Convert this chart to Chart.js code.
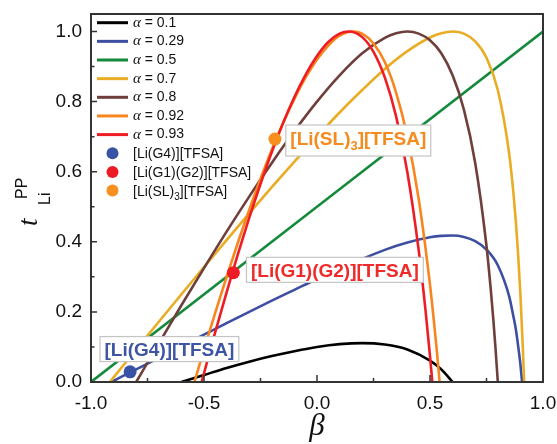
<!DOCTYPE html>
<html>
<head>
<meta charset="utf-8">
<script src="https://cdn.jsdelivr.net/npm/chart.js@4.4.0/dist/chart.umd.min.js"></script>
<style>
  html, body { margin: 0; padding: 0; background: #fff; }
  #wrap { width: 557px; height: 444px; }
</style>
</head>
<body>
<div id="wrap"><canvas id="chart" width="557" height="444"></canvas></div>
<script>
// curve values (beta -> t_Li^PP), one pair of arrays per alpha
var alphaLabels = ['0.1', '0.29', '0.5', '0.7', '0.8', '0.92', '0.93'];
var lineColors = ['#000000', '#3d4fa1', '#158a3c', '#e9ad25', '#6e3f3b', '#f7861e', '#ee1d23'];

var beta01 = [-0.6, -0.5, -0.4, -0.3, -0.2, -0.1, 0, 0.1, 0.2, 0.3, 0.4, 0.5, 0.55, 0.6];
var t01    = [0, 0.020, 0.040, 0.058, 0.074, 0.088, 0.100, 0.108, 0.111, 0.107, 0.093, 0.061, 0.036, 0];

var beta029 = [-0.9075, -0.9, -0.8, -0.7, -0.6, -0.5, -0.4, -0.3, -0.2, -0.1, 0, 0.1, 0.2, 0.3, 0.4, 0.5, 0.55, 0.6, 0.65, 0.7, 0.75, 0.8, 0.85, 0.87, 0.88, 0.89, 0.9, 0.9075];
var t029    = [0, 0.003, 0.036, 0.069, 0.102, 0.135, 0.168, 0.200, 0.232, 0.263, 0.294, 0.323, 0.351, 0.377, 0.398, 0.413, 0.417, 0.418, 0.414, 0.402, 0.378, 0.333, 0.245, 0.184, 0.150, 0.103, 0.050, 0];

var beta05 = [-1, 1];
var t05    = [0, 1];

var beta07 = [-0.9165, -0.9, -0.8, -0.7, -0.6, -0.5, -0.4, -0.3, -0.2, -0.1, 0, 0.1, 0.2, 0.3, 0.4, 0.5, 0.55, 0.6, 0.65, 0.7, 0.75, 0.8, 0.85, 0.87, 0.88, 0.89, 0.9, 0.91, 0.9165];
var t07    = [0, 0.013, 0.093, 0.172, 0.250, 0.328, 0.405, 0.481, 0.556, 0.629, 0.700, 0.769, 0.833, 0.893, 0.944, 0.983, 0.995, 1.000, 0.994, 0.972, 0.925, 0.833, 0.653, 0.533, 0.456, 0.363, 0.250, 0.110, 0];

var beta08 = [-0.8, -0.7, -0.6, -0.5, -0.4, -0.3, -0.2, -0.1, 0, 0.1, 0.2, 0.3, 0.35, 0.4, 0.45, 0.5, 0.55, 0.6, 0.65, 0.7, 0.75, 0.77, 0.78, 0.79, 0.8];
var t08    = [0, 0.110, 0.219, 0.325, 0.429, 0.529, 0.625, 0.716, 0.800, 0.875, 0.938, 0.982, 0.995, 1.000, 0.994, 0.975, 0.938, 0.875, 0.777, 0.625, 0.388, 0.256, 0.180, 0.095, 0];

var beta092 = [-0.5426, -0.52, -0.5, -0.45, -0.4, -0.35, -0.3, -0.25, -0.2, -0.15, -0.1, -0.05, 0, 0.05, 0.1, 0.16, 0.2, 0.25, 0.3, 0.35, 0.4, 0.45, 0.5, 0.51, 0.52, 0.53, 0.5426];
var t092    = [0, 0.049, 0.093, 0.198, 0.300, 0.398, 0.491, 0.580, 0.663, 0.739, 0.808, 0.869, 0.920, 0.960, 0.988, 1.000, 0.994, 0.966, 0.913, 0.826, 0.700, 0.522, 0.278, 0.219, 0.156, 0.090, 0];

var beta093 = [-0.5103, -0.5, -0.45, -0.4, -0.35, -0.3, -0.25, -0.2, -0.15, -0.1, -0.05, 0, 0.05, 0.1, 0.14, 0.2, 0.25, 0.3, 0.35, 0.4, 0.45, 0.48, 0.5, 0.5103];
var t093    = [0, 0.025, 0.143, 0.256, 0.365, 0.468, 0.565, 0.656, 0.739, 0.813, 0.877, 0.930, 0.970, 0.994, 1.000, 0.984, 0.942, 0.869, 0.758, 0.598, 0.376, 0.206, 0.074, 0];

// measured electrolytes
var saltNames = ['[Li(G4)][TFSA]', '[Li(G1)(G2)][TFSA]', '[Li(SL)3][TFSA]'];
var saltColors = ['#3853a4', '#ed1c24', '#f7901e'];
var saltTextColors = ['#3e55a5', '#ee2a2a', '#f58a1f'];
var saltBeta = [-0.827, -0.37, -0.186];
var saltT = [0.029, 0.312, 0.693];
// where the callout boxes sit (left edge beta, centre t)
var calloutBeta = [-0.96, -0.312, -0.138];
var calloutT = [0.094, 0.32, 0.689];

var xTicks = [-1, -0.5, 0, 0.5, 1];
var xMinor = [-0.75, -0.25, 0.25, 0.75];
var yTicks = [0, 0.2, 0.4, 0.6, 0.8, 1.0];
var yMinor = [0.1, 0.3, 0.5, 0.7, 0.9];

function pts(bx, ty) {
  return bx.map(function (b, i) { return { x: b, y: ty[i] }; });
}

var curveBetas = [beta01, beta029, beta05, beta07, beta08, beta092, beta093];
var curveTs = [t01, t029, t05, t07, t08, t092, t093];

var datasets = [];
saltNames.forEach(function (name, i) {
  datasets.push({
    type: 'scatter',
    label: name,
    data: [{ x: saltBeta[i], y: saltT[i] }],
    backgroundColor: saltColors[i],
    borderWidth: 0,
    pointRadius: 6.5,
    order: 0
  });
});
alphaLabels.forEach(function (a, i) {
  datasets.push({
    type: 'line',
    label: 'α = ' + a,
    data: pts(curveBetas[i], curveTs[i]),
    borderColor: lineColors[i],
    borderWidth: 2.6,
    pointRadius: 0,
    fill: false,
    cubicInterpolationMode: 'monotone',
    order: 10 - i
  });
});

function drawSaltText(ctx, text, x, y, size) {
  // handles the subscript 3 in [Li(SL)3][TFSA]
  var m = text.match(/^(.*\))(\d)(\].*)$/);
  if (!m || text.indexOf('SL') < 0) {
    ctx.fillText(text, x, y);
    return ctx.measureText(text).width;
  }
  var f = ctx.font;
  ctx.fillText(m[1], x, y);
  var w = ctx.measureText(m[1]).width;
  ctx.font = f.replace(size + 'px', Math.round(size * 0.68) + 'px');
  ctx.fillText(m[2], x + w, y + size * 0.3);
  var w2 = ctx.measureText(m[2]).width;
  ctx.font = f;
  ctx.fillText(m[3], x + w + w2, y);
  return w + w2 + ctx.measureText(m[3]).width;
}

function saltTextWidth(ctx, text, size) {
  var m = text.match(/^(.*\))(\d)(\].*)$/);
  if (!m || text.indexOf('SL') < 0) return ctx.measureText(text).width;
  var f = ctx.font;
  var w = ctx.measureText(m[1]).width + ctx.measureText(m[3]).width;
  ctx.font = f.replace(size + 'px', Math.round(size * 0.68) + 'px');
  w += ctx.measureText(m[2]).width;
  ctx.font = f;
  return w;
}

var decor = {
  id: 'decor',
  afterDatasetsDraw: function (chart) {
    var ctx = chart.ctx, a = chart.chartArea;
    var xs = chart.scales.x, ys = chart.scales.y;
    ctx.save();

    // frame
    ctx.strokeStyle = '#333';
    ctx.lineWidth = 2;
    ctx.strokeRect(a.left, a.top, a.right - a.left, a.bottom - a.top);

    // inward ticks on bottom and left
    ctx.lineWidth = 1.5;
    ctx.beginPath();
    xTicks.forEach(function (v) { var p = xs.getPixelForValue(v); ctx.moveTo(p, a.bottom); ctx.lineTo(p, a.bottom - 7); });
    xMinor.forEach(function (v) { var p = xs.getPixelForValue(v); ctx.moveTo(p, a.bottom); ctx.lineTo(p, a.bottom - 4); });
    yTicks.forEach(function (v) { var p = ys.getPixelForValue(v); ctx.moveTo(a.left, p); ctx.lineTo(a.left + 6, p); });
    yMinor.forEach(function (v) { var p = ys.getPixelForValue(v); ctx.moveTo(a.left, p); ctx.lineTo(a.left + 3.5, p); });
    ctx.stroke();

    // callout boxes
    var size = 19;
    saltNames.forEach(function (name, i) {
      var x = xs.getPixelForValue(calloutBeta[i]);
      var cy = ys.getPixelForValue(calloutT[i]);
      ctx.font = 'bold ' + size + 'px "Liberation Sans", Arial, sans-serif';
      var w = saltTextWidth(ctx, name, size);
      var sub = name.indexOf('SL') >= 0;
      var h = sub ? 31 : 25;
      ctx.fillStyle = '#fff';
      ctx.fillRect(x, cy - h / 2, w + 9, h);
      ctx.strokeStyle = '#c4c4c4';
      ctx.lineWidth = 1.2;
      ctx.strokeRect(x, cy - h / 2, w + 9, h);
      ctx.fillStyle = saltTextColors[i];
      ctx.textBaseline = 'alphabetic';
      ctx.textAlign = 'left';
      drawSaltText(ctx, name, x + 4.5, cy + (sub ? 4 : 7), size);
    });

    // legend
    var lx0 = a.left + 6, lx1 = a.left + 37, tx = a.left + 42;
    var ly = a.top + 8.7, step = 18.65;
    ctx.textBaseline = 'middle';
    ctx.textAlign = 'left';
    chart.data.datasets.forEach(function (ds) {
      if (ds.type !== 'line') return;
      ctx.strokeStyle = ds.borderColor;
      ctx.lineWidth = 3;
      ctx.beginPath(); ctx.moveTo(lx0, ly); ctx.lineTo(lx1, ly); ctx.stroke();
      ctx.fillStyle = '#111';
      ctx.font = 'italic 15px "Liberation Serif", serif';
      ctx.fillText('α', tx, ly);
      var aw = ctx.measureText('α').width;
      ctx.font = '14px "Liberation Sans", Arial, sans-serif';
      ctx.fillText(ds.label.replace('α', ''), tx + aw, ly);
      ly += step;
    });
    chart.data.datasets.forEach(function (ds) {
      if (ds.type !== 'scatter') return;
      ctx.fillStyle = ds.backgroundColor;
      ctx.beginPath(); ctx.arc((lx0 + lx1) / 2, ly, 6, 0, Math.PI * 2); ctx.fill();
      ctx.fillStyle = '#111';
      ctx.font = '14px "Liberation Sans", Arial, sans-serif';
      ctx.textBaseline = 'alphabetic';
      drawSaltText(ctx, ds.label, tx, ly + 5, 14);
      ctx.textBaseline = 'middle';
      ly += step;
    });

    ctx.restore();
  },
  afterDraw: function (chart) {
    var ctx = chart.ctx, a = chart.chartArea;
    ctx.save();
    ctx.fillStyle = '#111';
    ctx.textBaseline = 'alphabetic';
    ctx.textAlign = 'left';
    // y axis title: t with superscript PP and subscript Li, rotated
    ctx.translate(37, 226);
    ctx.rotate(-Math.PI / 2);
    ctx.font = 'italic 27px "Liberation Serif", serif';
    ctx.fillText('t', 0, 0);
    ctx.font = '16px "Liberation Sans", Arial, sans-serif';
    ctx.fillText('PP', 27, -10);
    ctx.fillText('Li', 21, 13);
    ctx.restore();

    ctx.save();
    ctx.fillStyle = '#111';
    ctx.font = 'italic 31px "Liberation Serif", serif';
    ctx.textAlign = 'center';
    ctx.textBaseline = 'alphabetic';
    ctx.fillText('β', (a.left + a.right) / 2, 435);
    ctx.restore();
  }
};

Chart.defaults.font.family = '"Liberation Sans", Arial, sans-serif';
Chart.defaults.color = '#111';

new Chart(document.getElementById('chart'), {
  type: 'line',
  data: { datasets: datasets },
  options: {
    responsive: false,
    animation: false,
    devicePixelRatio: 1,
    layout: { padding: { top: 14, right: 14, left: 0, bottom: 0 } },
    plugins: { legend: { display: false }, tooltip: { enabled: false } },
    scales: {
      x: {
        type: 'linear',
        min: -1, max: 1,
        grid: { display: false, drawTicks: false },
        border: { display: false },
        ticks: {
          stepSize: 0.5,
          padding: 10,
          font: { size: 19 },
          color: '#111',
          callback: function (v) { return v.toFixed(1); }
        },
        afterFit: function (s) { s.height = 62; s.paddingLeft = 0; s.paddingRight = 0; }
      },
      y: {
        type: 'linear',
        min: 0, max: 1.05,
        grid: { display: false, drawTicks: false },
        border: { display: false },
        ticks: {
          stepSize: 0.2,
          includeBounds: false,
          padding: 9,
          font: { size: 19 },
          color: '#111',
          callback: function (v) { return v.toFixed(1); }
        },
        afterFit: function (s) { s.width = 91; s.paddingTop = 0; s.paddingBottom = 0; }
      }
    }
  },
  plugins: [decor]
});
</script>
</body>
</html>
